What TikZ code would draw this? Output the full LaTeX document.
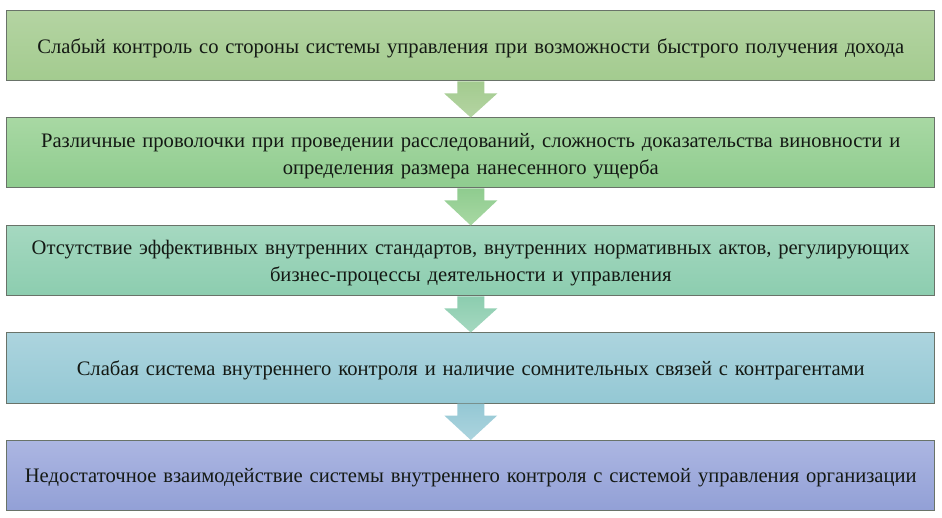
\documentclass[tikz,border=0pt]{standalone}
\usepackage{fontspec}
\setmainfont{Liberation Serif}
\usetikzlibrary{calc}
\definecolor{bline}{RGB}{105,115,105}
\definecolor{txtc}{RGB}{20,25,20}
\definecolor{gAt}{RGB}{180,212,162}
\definecolor{gAb}{RGB}{163,203,143}
\definecolor{gBt}{RGB}{168,216,163}
\definecolor{gBb}{RGB}{143,204,143}
\definecolor{gCt}{RGB}{165,216,192}
\definecolor{gCb}{RGB}{140,205,175}
\definecolor{gDt}{RGB}{172,212,222}
\definecolor{gDb}{RGB}{148,200,212}
\definecolor{gEt}{RGB}{172,182,226}
\definecolor{gEb}{RGB}{146,160,214}
\tikzset{
  box/.style={draw=bline, line width=1pt, minimum width=928pt, minimum height=70pt,
    inner sep=0pt},
  txt/.style={inner sep=0pt, align=center, text width=915pt, text=txtc,
    font=\fontsize{20.6}{27}\selectfont},
}
\newcommand{\flowarrow}[4]{%
  \shade[top color=#3, bottom color=#4]
    ($(#1.south)+(-13.5,0)$) -- ($(#1.south)+(-13.5,12)$) -- ($(#1.south)+(-26.5,12)$)
    -- (#2.north) -- ($(#1.south)+(26.5,12)$) -- ($(#1.south)+(13.5,12)$)
    -- ($(#1.south)+(13.5,0)$) -- cycle;}
\begin{document}
\begin{tikzpicture}[x=1pt,y=-1pt]
\useasboundingbox (0,0) rectangle (942,518);
\node[box, top color=gAt, bottom color=gAb] (a) at (470.75,46) {};
\node[box, top color=gBt, bottom color=gBb] (b) at (470.75,153) {};
\node[box, top color=gCt, bottom color=gCb] (c) at (470.75,261) {};
\node[box, top color=gDt, bottom color=gDb] (d) at (470.75,368) {};
\node[box, top color=gEt, bottom color=gEb] (e) at (470.75,475.5) {};
\node[txt] (ta) at ($(a.center)+(0,2.5)$) {Слабый контроль со стороны системы управления при возможности быстрого получения дохода};
\node[txt] (tb) at ($(b.center)+(0,3)$) {Различные проволочки при проведении расследований, сложность доказательства виновности и\\определения размера нанесенного ущерба};
\node[txt] (tc) at ($(c.center)+(0,2.5)$) {Отсутствие эффективных внутренних стандартов, внутренних нормативных актов, регулирующих\\бизнес-процессы деятельности и управления};
\node[txt] (td) at ($(d.center)+(0,2.5)$) {Слабая система внутреннего контроля и наличие сомнительных связей с контрагентами};
\node[txt] (te) at ($(e.center)+(0,2.5)$) {Недостаточное взаимодействие системы внутреннего контроля с системой управления организации};
\flowarrow{a}{b}{gAb}{gAt}
\flowarrow{b}{c}{gBb}{gBt}
\flowarrow{c}{d}{gCb}{gCt}
\flowarrow{d}{e}{gDb}{gDt}
\end{tikzpicture}
\end{document}
